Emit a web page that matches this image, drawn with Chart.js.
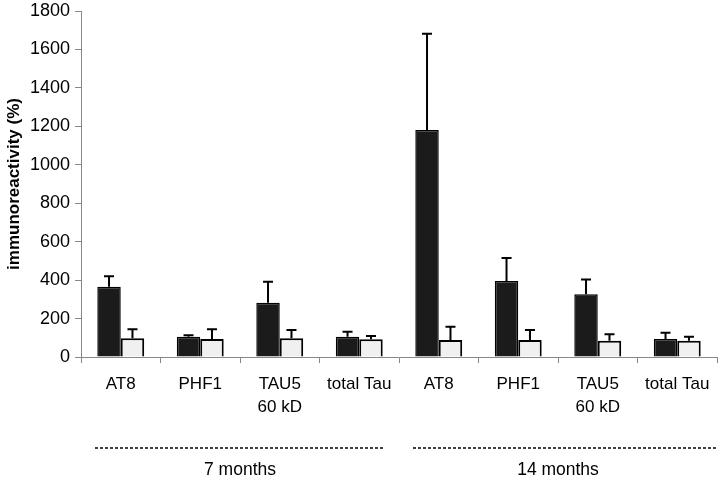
<!DOCTYPE html>
<html>
<head>
<meta charset="utf-8">
<script src="https://cdn.jsdelivr.net/npm/chart.js@4/dist/chart.umd.min.js"></script>
<style>
  html, body { margin: 0; padding: 0; background: #fff; }
  #wrap { width: 720px; height: 481px; }
</style>
</head>
<body>
<div id="wrap"><canvas id="chart" width="720" height="481"></canvas></div>
<script>
// categories (x axis), two lines where needed
const categories = ['AT8', 'PHF1', ['TAU5', '60 kD'], 'total Tau', 'AT8', 'PHF1', ['TAU5', '60 kD'], 'total Tau'];
const groups = ['7 months', '14 months'];

// dark bars and their upper error
const darkValues = [365, 105, 282, 105, 1181, 396, 327, 93];
const darkErrors = [55, 8, 109, 26, 501, 119, 76, 33];

// light bars and their upper error
const lightValues = [97, 93, 97, 92, 88, 88, 85, 85];
const lightErrors = [47, 51, 43, 17, 69, 52, 34, 20];

const yTicks = [0, 200, 400, 600, 800, 1000, 1200, 1400, 1600, 1800];

const FONT = '"Liberation Sans", Arial, sans-serif';

// draw only the upper whisker with a cap
const errorBars = {
    id: 'errorBars',
    afterDatasetsDraw(chart) {
        const ctx = chart.ctx;
        const y = chart.scales.y;
        const errs = [darkErrors, lightErrors];
        chart.data.datasets.forEach((ds, di) => {
            const meta = chart.getDatasetMeta(di);
            meta.data.forEach((bar, i) => {
                const top = y.getPixelForValue(ds.data[i] + errs[di][i]);
                ctx.save();
                ctx.strokeStyle = '#000';
                ctx.lineWidth = 2;
                ctx.beginPath();
                ctx.moveTo(bar.x, bar.y);
                ctx.lineTo(bar.x, top);
                ctx.moveTo(bar.x - 5, top);
                ctx.lineTo(bar.x + 5, top);
                ctx.stroke();
                ctx.restore();
            });
        });
    }
};

// dashed lines and "7 months" / "14 months" under the axis
const groupLabels = {
    id: 'groupLabels',
    afterDraw(chart) {
        const ctx = chart.ctx;
        const x = chart.scales.x;
        const half = (x.getPixelForValue(1) - x.getPixelForValue(0)) / 2;
        ctx.save();
        groups.forEach((g, gi) => {
            const start = x.getPixelForValue(gi * 4) - half;
            const end = x.getPixelForValue(gi * 4 + 3) + half;
            ctx.strokeStyle = '#000';
            ctx.lineWidth = 1.3;
            ctx.setLineDash([3, 2]);
            ctx.beginPath();
            ctx.moveTo(start + 14, 448);
            ctx.lineTo(gi === 0 ? end - 14 : chart.width - 2, 448);
            ctx.stroke();
            ctx.setLineDash([]);
            ctx.fillStyle = '#000';
            ctx.font = '17.5px ' + FONT;
            ctx.textAlign = 'center';
            ctx.textBaseline = 'middle';
            ctx.fillText(g, (start + end) / 2, 470);
        });
        ctx.restore();
    }
};

new Chart(document.getElementById('chart').getContext('2d'), {
    type: 'bar',
    data: {
        labels: categories,
        datasets: [
            {
                label: 'dark',
                data: darkValues,
                backgroundColor: '#1b1b1b',
                borderColor: '#000',
                borderWidth: 1.5,
                categoryPercentage: 0.59,
                barPercentage: 1.0
            },
            {
                label: 'light',
                data: lightValues,
                backgroundColor: '#f0f0f0',
                borderColor: '#000',
                borderWidth: 2,
                categoryPercentage: 0.59,
                barPercentage: 1.0
            }
        ]
    },
    options: {
        responsive: false,
        animation: false,
        layout: { padding: { left: 4, right: 3, top: 11, bottom: 0 } },
        plugins: {
            legend: { display: false },
            tooltip: { enabled: false }
        },
        scales: {
            y: {
                min: 0,
                max: 1800,
                afterBuildTicks: (scale) => { scale.ticks = yTicks.map(v => ({ value: v })); },
                afterFit: (scale) => { scale.width = 77; scale.paddingTop = 0; scale.paddingBottom = 0; },
                border: { color: '#888', width: 1 },
                grid: { drawOnChartArea: false, drawTicks: true, tickLength: 6, color: '#888' },
                ticks: {
                    color: '#000',
                    padding: 5,
                    callback: (v) => String(v),
                    font: { family: FONT, size: 18 }
                },
                title: {
                    display: true,
                    text: 'immunoreactivity (%)',
                    color: '#000',
                    padding: 0,
                    font: { family: FONT, size: 17, weight: 'bold' }
                }
            },
            x: {
                afterFit: (scale) => { scale.height = 124; },
                border: { color: '#888', width: 1 },
                grid: { drawOnChartArea: false, drawTicks: true, tickLength: 6, color: '#888', offset: true },
                ticks: {
                    color: '#000',
                    padding: 9,
                    maxRotation: 0,
                    autoSkip: false,
                    font: { family: FONT, size: 17, lineHeight: 1.4 }
                }
            }
        }
    },
    plugins: [errorBars, groupLabels]
});
</script>
</body>
</html>
